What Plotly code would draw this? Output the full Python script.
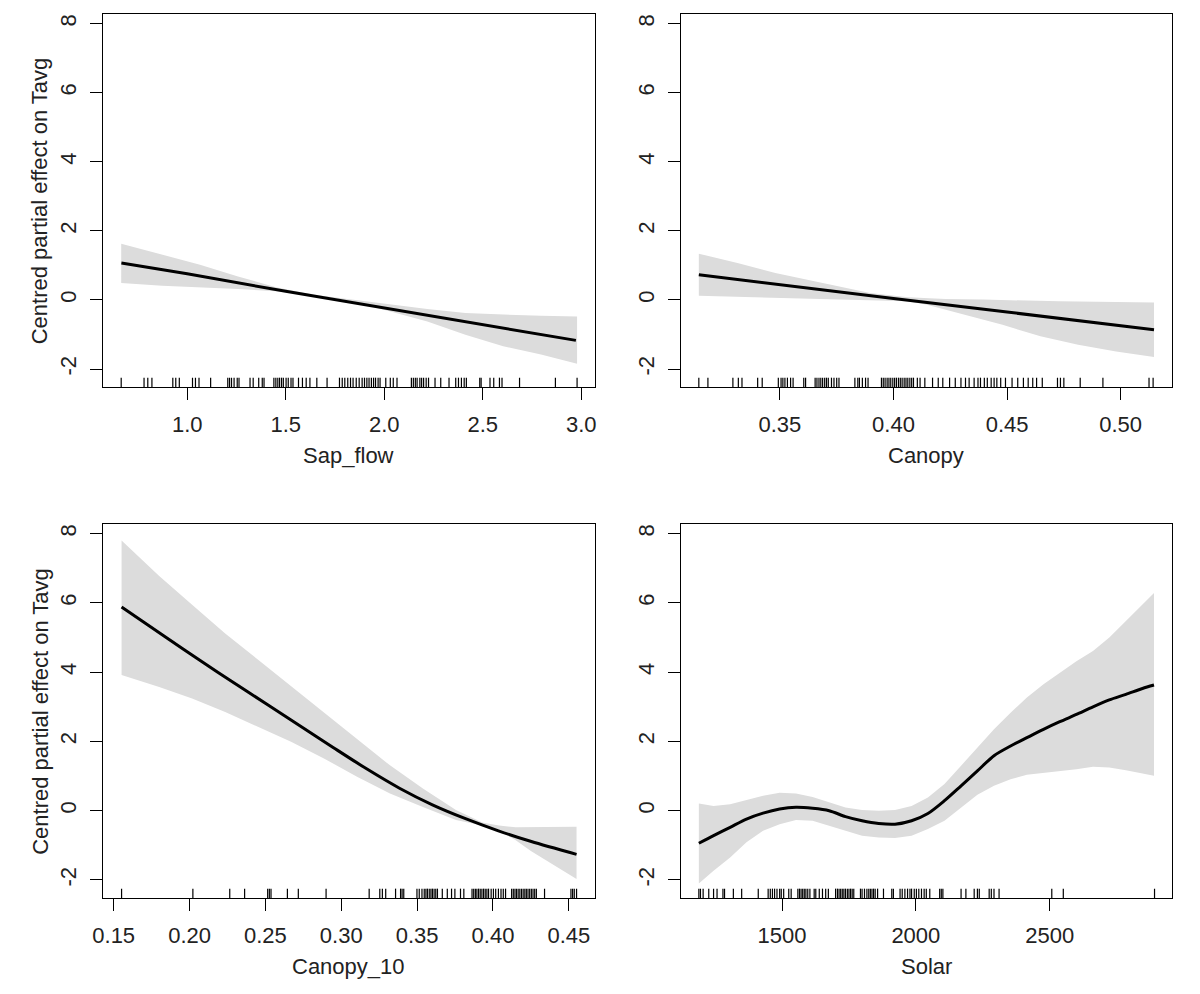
"""
GAM partial effects on Tavg: Sap_flow, Canopy, Canopy_10, Solar
"""

import plotly.graph_objects as go

# ─────────────────────────────────────────────────────────────────────────────
# Data
# ─────────────────────────────────────────────────────────────────────────────
y_range = [-2.52, 8.28]
y_ticks = [-2, 0, 2, 4, 6, 8]
y_tick_labels = ["-2", "0", "2", "4", "6", "8"]

# Sap_flow
sap_x = [0.666, 1.0, 1.5, 2.0, 2.5, 2.973]
sap_fit = [1.07, 0.76, 0.25, -0.23, -0.72, -1.17]
sap_band_x = [0.665, 0.873, 1.065, 1.258, 1.45, 1.642, 1.835, 2.027, 2.219, 2.412, 2.604, 2.796, 2.979]
sap_upper = [1.63, 1.31, 1.02, 0.68, 0.37, 0.15, 0.01, -0.14, -0.26, -0.38, -0.43, -0.46, -0.48]
sap_lower = [0.49, 0.41, 0.37, 0.32, 0.25, 0.15, -0.04, -0.33, -0.62, -1.01, -1.34, -1.58, -1.85]
sap_rug = [0.665, 0.781, 0.800, 0.821, 0.927, 0.942, 0.960, 1.027, 1.042, 1.060, 1.119, 1.206,
           1.215, 1.225, 1.238, 1.254, 1.263, 1.319, 1.335, 1.363, 1.381, 1.390, 1.440, 1.450,
           1.460, 1.469, 1.479, 1.488, 1.502, 1.513, 1.527, 1.537, 1.565, 1.585, 1.604, 1.623,
           1.658, 1.710, 1.773, 1.787, 1.800, 1.815, 1.829, 1.842, 1.858, 1.873, 1.888, 1.900,
           1.912, 1.923, 1.935, 1.946, 1.956, 1.969, 1.979, 2.008, 2.031, 2.046, 2.065, 2.138,
           2.148, 2.158, 2.167, 2.181, 2.190, 2.200, 2.213, 2.225, 2.258, 2.287, 2.329, 2.363,
           2.377, 2.392, 2.406, 2.417, 2.485, 2.492, 2.537, 2.556, 2.585, 2.598, 2.687, 2.869,
           2.979]
sap_range = [0.573, 3.068]
sap_ticks = [1.0, 1.5, 2.0, 2.5, 3.0]
sap_tick_labels = ["1.0", "1.5", "2.0", "2.5", "3.0"]

# Canopy
can_x = [0.3143, 0.35, 0.40, 0.45, 0.50, 0.5147]
can_fit = [0.73, 0.44, 0.04, -0.35, -0.75, -0.86]
can_up_x = [0.3143, 0.3313, 0.348, 0.3647, 0.3763, 0.3897, 0.4063, 0.423, 0.4397, 0.4563, 0.473, 0.4897, 0.5147]
can_upper = [1.34, 1.07, 0.78, 0.54, 0.39, 0.20, 0.08, 0.03, 0.01, -0.02, -0.04, -0.05, -0.07]
can_lo_x = [0.3143, 0.3313, 0.348, 0.3647, 0.3813, 0.3897, 0.4063, 0.4147, 0.4313, 0.448, 0.4647, 0.4813, 0.498, 0.5147]
can_lower = [0.12, 0.08, 0.05, 0.03, 0.01, -0.01, -0.04, -0.14, -0.43, -0.72, -1.05, -1.30, -1.49, -1.65]
can_rug = [0.3143, 0.3183, 0.3293, 0.3317, 0.3333, 0.3402, 0.3422, 0.3493, 0.3505, 0.3513,
           0.3522, 0.3533, 0.3547, 0.3558, 0.3605, 0.3613, 0.3655, 0.3663, 0.3672, 0.3680,
           0.3688, 0.3697, 0.3705, 0.3713, 0.3727, 0.3738, 0.3750, 0.3760, 0.3830, 0.3843,
           0.3850, 0.3863, 0.3877, 0.3888, 0.3947, 0.3955, 0.3963, 0.3972, 0.3980, 0.3988,
           0.3997, 0.4005, 0.4013, 0.4022, 0.4030, 0.4038, 0.4047, 0.4055, 0.4063, 0.4072,
           0.4080, 0.4088, 0.4105, 0.4117, 0.4138, 0.4172, 0.4197, 0.4217, 0.4247, 0.4272,
           0.4297, 0.4317, 0.4333, 0.4355, 0.4372, 0.4383, 0.4400, 0.4413, 0.4430, 0.4443,
           0.4455, 0.4472, 0.4493, 0.4522, 0.4547, 0.4572, 0.4593, 0.4613, 0.4630, 0.4655,
           0.4722, 0.4735, 0.4750, 0.4822, 0.4922, 0.5125, 0.5143]
can_range = [0.3063, 0.5227]
can_ticks = [0.35, 0.40, 0.45, 0.50]
can_tick_labels = ["0.35", "0.40", "0.45", "0.50"]

# Canopy_10
c10_x = [0.1552, 0.1863, 0.2080, 0.2297, 0.2515, 0.2732, 0.2949, 0.3167, 0.3384, 0.3601,
         0.3819, 0.4036, 0.4253, 0.4551]
c10_fit = [5.88, 4.95, 4.31, 3.68, 3.06, 2.44, 1.82, 1.21, 0.65, 0.17, -0.23, -0.58, -0.89, -1.26]
c10_band_x = [0.1552, 0.180, 0.2017, 0.2235, 0.2452, 0.2669, 0.2886, 0.3104, 0.3321, 0.3538,
              0.3756, 0.393, 0.404, 0.415, 0.425, 0.4551]
c10_upper = [7.80, 6.78, 5.95, 5.12, 4.36, 3.60, 2.84, 2.06, 1.31, 0.64, 0.02, -0.34, -0.43,
             -0.48, -0.48, -0.46]
c10_lower = [3.92, 3.57, 3.24, 2.85, 2.42, 1.99, 1.51, 0.98, 0.50, 0.11, -0.27, -0.43, -0.58,
             -0.85, -1.16, -1.97]
c10_rug = [0.1552, 0.2022, 0.2265, 0.2363, 0.2515, 0.2526, 0.2537, 0.2645, 0.2717, 0.2900,
           0.3184, 0.3254, 0.3271, 0.3293, 0.3358, 0.3391, 0.3401, 0.3412, 0.3499, 0.3514,
           0.3532, 0.3547, 0.3558, 0.3568, 0.3580, 0.3591, 0.3601, 0.3612, 0.3623, 0.3634,
           0.3666, 0.3699, 0.3727, 0.3749, 0.3786, 0.3808, 0.3862, 0.3873, 0.3884, 0.3894,
           0.3905, 0.3916, 0.3927, 0.3938, 0.3949, 0.3960, 0.3971, 0.3988, 0.4003, 0.4018,
           0.4036, 0.4053, 0.4068, 0.4083, 0.4123, 0.4134, 0.4145, 0.4155, 0.4166, 0.4177,
           0.4188, 0.4199, 0.4210, 0.4220, 0.4231, 0.4242, 0.4253, 0.4264, 0.4275, 0.4286,
           0.4340, 0.4514, 0.4525, 0.4536, 0.4551]
c10_range = [0.1430, 0.4670]
c10_ticks = [0.15, 0.20, 0.25, 0.30, 0.35, 0.40, 0.45]
c10_tick_labels = ["0.15", "0.20", "0.25", "0.30", "0.35", "0.40", "0.45"]

# Solar
sol_x = [1189, 1244, 1306, 1367, 1429, 1491, 1552, 1614, 1676, 1737, 1799, 1861, 1922, 1984,
         2045, 2107, 2169, 2230, 2292, 2354, 2415, 2477, 2538, 2600, 2662, 2723, 2785, 2847, 2890]
sol_fit = [-0.94, -0.72, -0.48, -0.24, -0.07, 0.05, 0.10, 0.07, 0.00, -0.17, -0.29, -0.37,
           -0.39, -0.29, -0.08, 0.29, 0.72, 1.15, 1.59, 1.87, 2.11, 2.35, 2.57, 2.78, 3.00,
           3.20, 3.36, 3.53, 3.63]
sol_upper = [0.21, 0.14, 0.19, 0.31, 0.43, 0.52, 0.50, 0.40, 0.24, 0.09, 0.02, 0.00, 0.02,
             0.14, 0.38, 0.77, 1.30, 1.82, 2.35, 2.83, 3.27, 3.65, 3.99, 4.32, 4.61, 5.00,
             5.48, 5.96, 6.29]
sol_lower = [-2.10, -1.73, -1.35, -0.91, -0.58, -0.39, -0.27, -0.29, -0.43, -0.58, -0.72,
             -0.77, -0.79, -0.72, -0.53, -0.29, 0.09, 0.46, 0.72, 0.91, 1.04, 1.10, 1.15, 1.20,
             1.27, 1.25, 1.17, 1.08, 1.01]
sol_rug = [1189, 1195, 1205, 1226, 1244, 1257, 1279, 1285, 1318, 1349, 1411, 1448, 1456, 1464,
           1472, 1481, 1491, 1497, 1506, 1525, 1534, 1559, 1565, 1571, 1577, 1583, 1589, 1596,
           1604, 1620, 1626, 1639, 1651, 1663, 1673, 1700, 1707, 1713, 1719, 1725, 1731, 1737,
           1744, 1750, 1756, 1762, 1768, 1793, 1799, 1808, 1817, 1824, 1830, 1836, 1842, 1848,
           1857, 1879, 1910, 1916, 1941, 1949, 1959, 1969, 1978, 1984, 1994, 2002, 2011, 2021,
           2031, 2039, 2052, 2089, 2095, 2101, 2169, 2187, 2218, 2230, 2237, 2274, 2282, 2292,
           2311, 2508, 2551, 2892]
sol_range = [1121, 2958]
sol_ticks = [1500, 2000, 2500]
sol_tick_labels = ["1500", "2000", "2500"]

y_title = "Centred partial effect on Tavg"

# ─────────────────────────────────────────────────────────────────────────────
# Styling / geometry (page pixels; the html body adds an 8px margin)
# ─────────────────────────────────────────────────────────────────────────────
FONT = "Liberation Sans, Arial, sans-serif"
FS = 22
TEXT = "#222222"
BAND = "#DCDCDC"
RUG_H = 0.27
PAD = 8
W, H = 1200 - 2 * PAD, 994 - 2 * PAD


def px_x(a, b):
    return [(a - PAD) / W, (b - PAD) / W]


def px_y(top, bottom):
    return [1 - (bottom - PAD) / H, 1 - (top - PAD) / H]


LEFT_X = px_x(93, 590)
RIGHT_X = px_x(677, 1174)
TOP_Y = px_y(14, 387)
BOTTOM_Y = px_y(524, 898)

panels = [
    dict(name="Sap_flow", x=sap_x, fit=sap_fit, up_x=sap_band_x, up=sap_upper,
         lo_x=sap_band_x, lo=sap_lower, rug=sap_rug, rng=sap_range,
         ticks=sap_ticks, labels=sap_tick_labels, dx=LEFT_X, dy=TOP_Y, ytitle=True, shape="linear"),
    dict(name="Canopy", x=can_x, fit=can_fit, up_x=can_up_x, up=can_upper,
         lo_x=can_lo_x, lo=can_lower, rug=can_rug, rng=can_range,
         ticks=can_ticks, labels=can_tick_labels, dx=RIGHT_X, dy=TOP_Y, ytitle=False, shape="linear"),
    dict(name="Canopy_10", x=c10_x, fit=c10_fit, up_x=c10_band_x, up=c10_upper,
         lo_x=c10_band_x, lo=c10_lower, rug=c10_rug, rng=c10_range,
         ticks=c10_ticks, labels=c10_tick_labels, dx=LEFT_X, dy=BOTTOM_Y, ytitle=True, shape="spline"),
    dict(name="Solar", x=sol_x, fit=sol_fit, up_x=sol_x, up=sol_upper,
         lo_x=sol_x, lo=sol_lower, rug=sol_rug, rng=sol_range,
         ticks=sol_ticks, labels=sol_tick_labels, dx=RIGHT_X, dy=BOTTOM_Y, ytitle=False, shape="spline"),
]

fig = go.Figure()
layout = {}
annotations = []

for i, p in enumerate(panels, start=1):
    suffix = "" if i == 1 else str(i)
    xref, yref = "x" + suffix, "y" + suffix

    # confidence band
    fig.add_trace(go.Scatter(
        x=p["up_x"] + p["lo_x"][::-1],
        y=p["up"] + p["lo"][::-1],
        fill="toself", fillcolor=BAND, mode="lines",
        line=dict(width=0, color=BAND),
        xaxis=xref, yaxis=yref, showlegend=False, hoverinfo="skip",
    ))

    # smooth
    fig.add_trace(go.Scatter(
        x=p["x"], y=p["fit"], mode="lines",
        line=dict(color="black", width=3, shape=p["shape"], smoothing=0.8),
        xaxis=xref, yaxis=yref, showlegend=False,
    ))

    # rug
    rx, ry = [], []
    for v in p["rug"]:
        rx += [v, v, None]
        ry += [y_range[0], y_range[0] + RUG_H, None]
    fig.add_trace(go.Scatter(
        x=rx, y=ry, mode="lines", line=dict(color="black", width=1.2),
        xaxis=xref, yaxis=yref, showlegend=False, hoverinfo="skip",
    ))

    common = dict(
        showline=True, mirror=True, linecolor="black", linewidth=1.2,
        ticks="outside", ticklen=12, tickwidth=1, tickcolor="black",
        showgrid=False, zeroline=False, fixedrange=True,
        tickfont=dict(family=FONT, size=FS, color=TEXT),
        ticklabelstandoff=5,
    )
    layout["xaxis" + suffix] = dict(
        domain=p["dx"], anchor=yref, range=p["rng"],
        tickmode="array", tickvals=p["ticks"], ticktext=p["labels"], **common,
    )
    layout["yaxis" + suffix] = dict(
        domain=p["dy"], anchor=xref, range=y_range,
        tickmode="array", tickvals=y_ticks, ticktext=y_tick_labels,
        tickangle=-90, **common,
    )

    # axis titles placed in paper coordinates
    annotations.append(dict(
        text=p["name"], xref="paper", yref="paper",
        x=sum(p["dx"]) / 2, y=p["dy"][0] - 68 / H,
        xanchor="center", yanchor="middle", showarrow=False,
        font=dict(family=FONT, size=FS, color=TEXT),
    ))
    if p["ytitle"]:
        annotations.append(dict(
            text=y_title, xref="paper", yref="paper",
            x=(29 - PAD) / W, y=sum(p["dy"]) / 2, textangle=-90,
            xanchor="center", yanchor="middle", showarrow=False,
            font=dict(family=FONT, size=FS, color=TEXT),
        ))

fig.update_layout(
    width=W, height=H,
    margin=dict(l=0, r=0, t=0, b=0),
    paper_bgcolor="white", plot_bgcolor="white",
    font=dict(family=FONT, color=TEXT),
    annotations=annotations,
    **layout,
)

fig.write_html("out.html")
